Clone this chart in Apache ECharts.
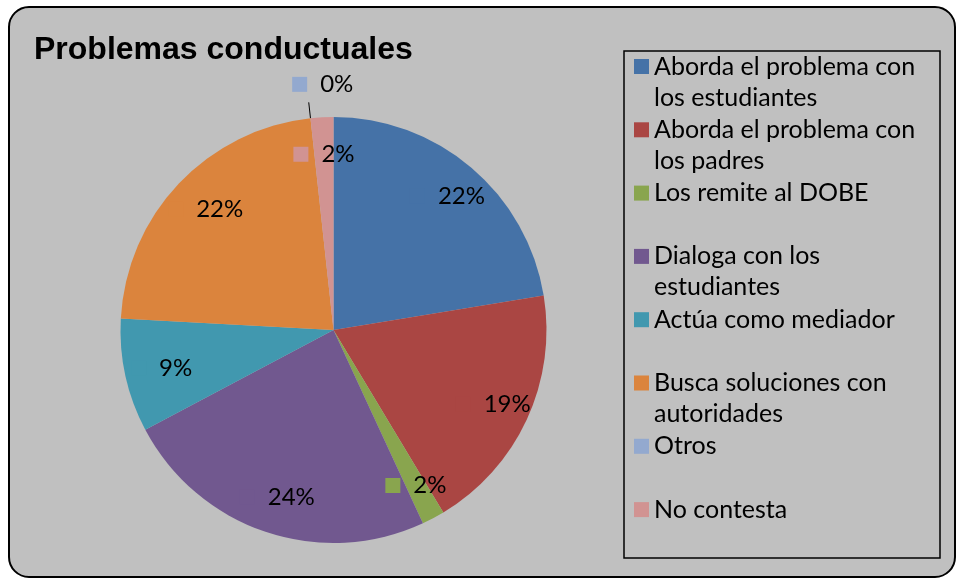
<!DOCTYPE html>
<html>
<head>
<meta charset="utf-8">
<title>Problemas conductuales</title>
<script src="https://cdn.jsdelivr.net/npm/echarts@6/dist/echarts.min.js"></script>
<style>
html, body { margin: 0; padding: 0; background: #fff; }
#main { width: 963px; height: 580px; }
</style>
</head>
<body>
<div id="main"></div>
<script>
// datos del gráfico (respuestas por categoría)
var categories = ['Aborda el problema con los estudiantes', 'Aborda el problema con los padres', 'Los remite al DOBE',
	'Dialoga con los estudiantes', 'Actúa como mediador', 'Busca soluciones con autoridades', 'Otros', 'No contesta'];
var legendLines = ['Aborda el problema con\nlos estudiantes', 'Aborda el problema con\nlos padres', 'Los remite al DOBE\n ',
	'Dialoga con los\nestudiantes', 'Actúa como mediador\n ', 'Busca soluciones con\nautoridades', 'Otros\n ', 'No contesta\n '];
var values = [13, 11, 1, 14, 5, 13, 0, 1];
var colors = ['#4572A7', '#AA4643', '#89A54E', '#71588F', '#4198AF', '#DB843D', '#93A9CF', '#D19392'];

var myChart = echarts.init(document.getElementById('main'));

// cuadrito de color + porcentaje, como en las etiquetas de Excel
var rich = {
	g : { width : 13 },
	t : { fontFamily : 'Lato', fontSize : 24, color : '#000', lineHeight : 30 }
};
for (var i = 0; i < colors.length; i++) {
	rich['s' + i] = { width : 15, height : 15, backgroundColor : colors[i] };
}
function pctLabel(p) {
	return '{s' + p.dataIndex + '| }{g| }{t|' + Math.round(p.percent) + '%}';
}

var pieData = [], ringData = [];
for (var i = 0; i < categories.length; i++) {
	pieData.push({
		name : categories[i],
		value : values[i],
		itemStyle : { color : colors[i] },
		label : { show : values[i] === 0 },
		labelLine : { show : values[i] === 0 }
	});
	ringData.push({
		name : categories[i],
		value : values[i],
		label : { show : values[i] > 0 }
	});
}

var option = {
	backgroundColor : '#fff',
	animation : false,
	graphic : [ {
		type : 'rect',
		z : -1,
		silent : true,
		shape : { x : 9, y : 7, width : 946, height : 570, r : 20 },
		style : { fill : '#c0c0c0', stroke : '#000', lineWidth : 2 }
	} ],
	title : {
		text : 'Problemas conductuales',
		left : 34,
		top : 34,
		padding : 0,
		textStyle : { fontFamily : 'Liberation Sans', fontSize : 32, fontWeight : 'bold', color : '#000', lineHeight : 32 }
	},
	legend : {
		orient : 'vertical',
		left : 624,
		top : 51,
		padding : [ 0, 16, 2, 10 ],
		itemWidth : 15,
		itemHeight : 62,
		itemGap : 1.3,
		icon : 'path://M0,0M0,8h15v15h-15zM0,62',
		borderColor : '#000',
		borderWidth : 1.5,
		selectedMode : false,
		itemStyle : { borderWidth : 0 },
		data : categories,
		formatter : function(name) {
			return legendLines[categories.indexOf(name)];
		},
		textStyle : { fontFamily : 'Lato', fontSize : 25, lineHeight : 31, color : '#000', width : 270 }
	},
	series : [ {
		name : 'Problemas conductuales',
		type : 'pie',
		center : [ 333.5, 330 ],
		radius : [ 0, 213 ],
		startAngle : 90,
		clockwise : true,
		silent : true,
		itemStyle : { borderWidth : 0 },
		data : pieData,
		label : {
			position : 'outside',
			formatter : pctLabel,
			rich : rich
		},
		labelLine : { length : 16, length2 : 0, smooth : false, lineStyle : { color : '#000', width : 1 } },
		labelLayout : function(p) {
			return { align : 'center', verticalAlign : 'middle', dx : 19, dy : -18 };
		}
	}, {
		// anillo invisible solo para colocar las etiquetas
		name : 'etiquetas',
		type : 'pie',
		center : [ 333.5, 330 ],
		radius : [ 146, 200 ],
		startAngle : 90,
		clockwise : true,
		silent : true,
		z : 3,
		itemStyle : { color : 'transparent', borderWidth : 0 },
		emphasis : { disabled : true },
		data : ringData,
		label : {
			position : 'inside',
			formatter : pctLabel,
			rich : rich
		},
		labelLine : { show : false }
	} ]
};

myChart.setOption(option);
</script>
</body>
</html>
